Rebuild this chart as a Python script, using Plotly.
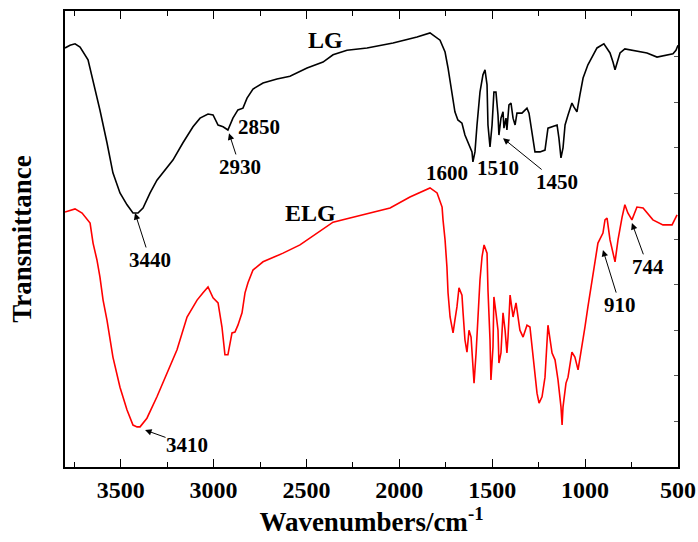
import plotly.graph_objects as go

# ---------------- data ----------------
lg_wavenumber = [3800, 3773, 3746, 3719, 3676, 3649, 3612, 3574, 3542, 3504, 3466, 3434, 3407, 3380,
                 3342, 3305, 3272, 3219, 3165, 3111, 3073, 3030, 3003, 2976, 2949, 2923, 2896, 2869,
                 2842, 2820, 2788, 2734, 2659, 2589, 2497, 2411, 2357, 2282, 2174, 2034, 1905, 1835,
                 1781, 1754, 1738, 1717, 1701, 1685, 1663, 1647, 1631, 1609, 1604, 1593, 1582, 1566,
                 1550, 1539, 1528, 1523, 1512, 1501, 1491, 1480, 1469, 1464, 1453, 1442, 1437, 1426,
                 1421, 1410, 1399, 1388, 1377, 1367, 1340, 1313, 1302, 1286, 1270, 1243, 1216, 1200,
                 1173, 1151, 1141, 1130, 1119, 1108, 1092, 1071, 1060, 1044, 1028, 1011, 985, 958,
                 936, 899, 866, 850, 839, 823, 812, 786, 743, 667, 613, 559, 527, 511, 500]
lg_transmittance = [91.9, 92.5, 92.8, 92.1, 89.3, 84.9, 78.3, 71.1, 64.5, 60.1, 57.5, 55.7, 55.7, 56.8,
                    60.1, 62.9, 64.5, 67.3, 71.1, 74.6, 76.5, 77.4, 77.2, 75.0, 74.6, 73.9, 76.5, 78.3,
                    78.7, 80.9, 82.9, 84.2, 85.1, 85.7, 87.5, 88.8, 90.4, 91.4, 91.9, 93.0, 94.3, 95.2,
                    93.6, 91.0, 87.5, 82.2, 77.9, 76.1, 75.4, 72.8, 71.1, 69.1, 66.9, 69.1, 75.0, 82.2,
                    86.0, 87.1, 83.8, 75.0, 70.2, 75.0, 82.2, 82.2, 77.2, 72.8, 76.5, 77.9, 74.3, 76.5,
                    73.9, 79.4, 79.8, 76.5, 75.0, 77.6, 77.6, 78.7, 77.6, 72.8, 69.1, 69.1, 69.5, 74.3,
                    74.6, 75.0, 72.1, 67.8, 70.0, 75.0, 77.2, 79.8, 78.9, 77.9, 81.6, 85.3, 88.2, 90.4,
                    91.9, 92.8, 90.8, 88.8, 87.1, 89.3, 90.8, 91.7, 91.4, 90.8, 89.9, 90.4, 90.6, 91.4, 92.5]

elg_wavenumber = [3800, 3746, 3708, 3665, 3649, 3628, 3612, 3595, 3574, 3542, 3504, 3466, 3434, 3412,
                  3396, 3359, 3305, 3251, 3197, 3143, 3089, 3057, 3030, 3003, 2976, 2955, 2939, 2923,
                  2901, 2885, 2869, 2847, 2831, 2815, 2788, 2734, 2626, 2535, 2357, 2266, 2050, 1943,
                  1835, 1797, 1770, 1765, 1754, 1744, 1738, 1727, 1711, 1701, 1690, 1679, 1663, 1657,
                  1647, 1636, 1625, 1614, 1604, 1598, 1587, 1577, 1566, 1555, 1544, 1528, 1523, 1512,
                  1507, 1496, 1491, 1480, 1469, 1464, 1453, 1442, 1431, 1421, 1415, 1404, 1394, 1388,
                  1372, 1361, 1351, 1334, 1313, 1297, 1281, 1270, 1259, 1248, 1232, 1216, 1200, 1178,
                  1162, 1146, 1130, 1124, 1119, 1103, 1092, 1071, 1055, 1038, 1017, 1001, 985, 963,
                  931, 904, 893, 882, 866, 839, 823, 801, 786, 770, 748, 721, 688, 635, 581, 532, 505]
elg_transmittance = [55.9, 56.6, 55.7, 53.5, 49.1, 45.4, 41.7, 36.6, 32.2, 24.1, 17.5, 12.5, 9.2, 8.8,
                     8.8, 10.7, 15.4, 20.6, 25.7, 32.9, 36.6, 38.2, 39.5, 37.1, 36.0, 30.7, 24.6, 24.6,
                     29.4, 29.6, 31.1, 33.8, 38.2, 40.4, 43.2, 45.0, 46.9, 48.7, 53.7, 54.6, 56.8, 59.2,
                     61.2, 60.1, 57.0, 54.2, 49.8, 43.9, 38.2, 32.9, 29.4, 32.2, 35.1, 39.3, 37.7, 33.8,
                     27.9, 25.2, 30.0, 28.5, 21.3, 18.4, 25.0, 33.8, 41.0, 46.1, 48.7, 46.9, 38.8, 27.9,
                     19.1, 26.3, 37.3, 33.8, 30.0, 22.8, 25.0, 33.8, 30.0, 25.0, 28.5, 37.7, 35.1, 32.9,
                     36.0, 32.9, 30.0, 28.5, 31.1, 30.7, 25.0, 21.3, 16.2, 14.0, 15.4, 19.7, 31.1, 25.0,
                     23.5, 19.1, 13.2, 9.2, 13.2, 18.4, 19.7, 25.2, 24.1, 21.3, 26.1, 30.7, 35.1, 41.0,
                     49.1, 51.3, 54.2, 54.6, 49.8, 45.0, 49.8, 54.8, 57.5, 55.7, 54.2, 57.0, 56.8, 54.2,
                     53.1, 53.1, 55.3]

x_tick_values = [3500, 3000, 2500, 2000, 1500, 1000, 500]
x_tick_labels = ["3500", "3000", "2500", "2000", "1500", "1000", "500"]

# series name labels: (text, wavenumber, transmittance)
series_labels = [("LG", 2400, 93.6), ("ELG", 2476, 55.7)]

# plain peak labels: (text, wavenumber, transmittance)
peak_labels = [("2850", 2756, 74.6), ("1600", 1744, 64.5), ("1510", 1469, 65.6)]

# peak labels with arrows: (text, label wavenumber, label T, tip wavenumber, tip T)
arrow_labels = [("3440", 3342, 45.4, 3423, 55.7),
                ("2930", 2858, 65.8, 2917, 73.2),
                ("1450", 1151, 62.5, 1442, 72.1),
                ("3410", 3143, 4.8, 3369, 8.1),
                ("910", 812, 35.5, 904, 47.6),
                ("744", 662, 43.9, 748, 53.5)]

FONT = "Liberation Serif"

fig = go.Figure()
fig.add_trace(go.Scatter(x=lg_wavenumber, y=lg_transmittance, mode="lines", name="LG",
                         line=dict(color="black", width=1.6), showlegend=False))
fig.add_trace(go.Scatter(x=elg_wavenumber, y=elg_transmittance, mode="lines", name="ELG",
                         line=dict(color="#ff0000", width=1.6), showlegend=False, yaxis="y2"))

annotations = []
for text, xv, yv in series_labels:
    annotations.append(dict(x=xv, y=yv, xref="x", yref="y", text=text, showarrow=False,
                            font=dict(family=FONT, size=24, color="black", weight="bold")))
for text, xv, yv in peak_labels:
    annotations.append(dict(x=xv, y=yv, xref="x", yref="y", text=text, showarrow=False,
                            font=dict(family=FONT, size=21, color="black", weight="bold")))
for text, lx, ly, tx, ty in arrow_labels:
    annotations.append(dict(x=tx, y=ty, xref="x", yref="y", ax=lx, ay=ly, axref="x", ayref="y",
                            text=text, showarrow=True, arrowhead=2, arrowsize=1.3, arrowwidth=1,
                            arrowcolor="black", standoff=0, borderpad=0,
                            font=dict(family=FONT, size=21, color="black", weight="bold")))

fig.update_layout(
    width=698, height=542,
    margin=dict(l=65, r=20, t=11, b=75, autoexpand=False),
    paper_bgcolor="white", plot_bgcolor="white",
    showlegend=False,
    annotations=annotations,
    xaxis=dict(
        range=[3800, 500], tickmode="array", tickvals=x_tick_values, ticktext=x_tick_labels,
        ticks="inside", ticklen=8, tickwidth=1.2, tickcolor="black",
        minor=dict(dtick=250, ticks="inside", ticklen=5, tickwidth=1, tickcolor="black"),
        showline=True, linecolor="black", linewidth=1.8, mirror="ticks",
        showgrid=False, zeroline=False, automargin=False,
        tickfont=dict(family=FONT, size=24, color="black", weight="bold"),
        title=dict(text="Wavenumbers/cm<sup>-1</sup>", standoff=10,
                   font=dict(family=FONT, size=27, color="black", weight="bold")),
    ),
    yaxis=dict(
        range=[0, 100], showticklabels=False, ticks="",
        showline=True, linecolor="black", linewidth=1.8, mirror=True,
        showgrid=False, zeroline=False, automargin=False,
        title=dict(text="Transmittance", standoff=24,
                   font=dict(family=FONT, size=27, color="black", weight="bold")),
    ),
    yaxis2=dict(
        range=[0, 100], overlaying="y", side="right", showticklabels=False,
        ticks="inside", ticklen=4, tickwidth=1, tickcolor="#555555", dtick=10, tick0=0,
        showline=False, showgrid=False, zeroline=False, automargin=False,
    ),
)

fig.write_html("out.html")
